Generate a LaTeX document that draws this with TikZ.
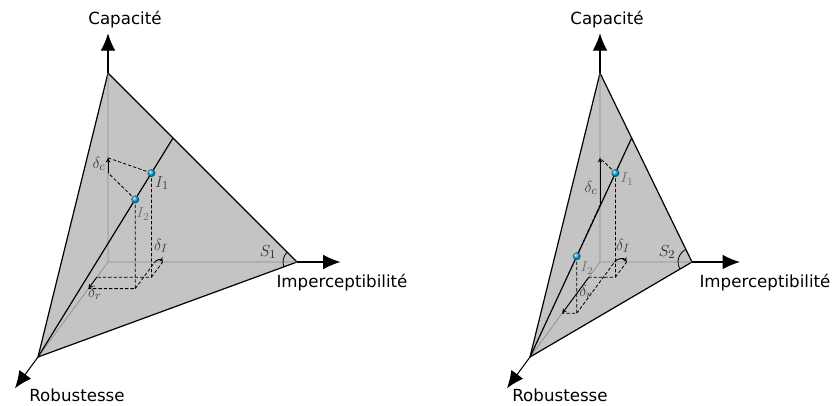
\documentclass[tikz,border=0pt]{standalone}
\usepackage{fontspec}
\setsansfont{DejaVu Sans}
\usetikzlibrary{arrows.meta}

\definecolor{facegray}{RGB}{196,196,196}
\definecolor{ballblue}{RGB}{25,165,220}

\begin{document}
\begin{tikzpicture}[x=0.75pt, y=-0.75pt,
    face/.style={fill=facegray, draw=black, line width=0.9pt, line join=round},
    hidden/.style={draw=black!45, line width=0.5pt},
    axis/.style={-{Latex[length=13pt,width=11pt]}, line width=0.8pt},
    trace/.style={line width=0.9pt},
    proj/.style={dash pattern=on 2.5pt off 1.5pt, line width=0.6pt},
    gap/.style={-{Stealth[length=3.5pt,width=3.5pt]}, line width=0.7pt},
    image/.style={circle, inner sep=0pt, minimum size=6pt, ball color=ballblue},
    angle/.style={line width=0.6pt},
    axislabel/.style={font=\sffamily\fontsize{12.5}{14}\selectfont},
    mathlabel/.style={text=black!75, font=\fontsize{13}{14}\selectfont},
    faint/.style={mathlabel, text=black!55, font=\fontsize{11}{12}\selectfont}]

  \useasboundingbox (0,0) rectangle (837,405);

  % first plane s1
  \begin{scope}[shift={(108,262)}, x={(141.75pt,0pt)}, y={(-52.5pt,-71.25pt)}, z={(0pt,141.75pt)}]
    \coordinate (aO) at (0,0,0);
    \coordinate (aI) at (1,0,0);
    \coordinate (aR) at (0,1,0);
    \coordinate (aC) at (0,0,1);
    \coordinate (aIt) at (1.23,0,0);
    \coordinate (aRt) at (0,1.33,0);
    \coordinate (aCt) at (0,0,1.21);
    \coordinate (aP) at (0.344,0,0.656);
    % I1 and its traces
    \coordinate (aA) at (0.289,0.16,0.551);
    \coordinate (aAf) at (0.289,0.16,0);
    \coordinate (aAi) at (0.289,0,0);
    \coordinate (aAr) at (0,0.16,0);
    \coordinate (aAc) at (0,0,0.551);
    % I2 and its traces
    \coordinate (aB) at (0.248,0.28,0.472);
    \coordinate (aBf) at (0.248,0.28,0);
    \coordinate (aBi) at (0.248,0,0);
    \coordinate (aBr) at (0,0.28,0);
    \coordinate (aBc) at (0,0,0.472);

    \filldraw[face] (aR) -- (aI) -- (aC) -- cycle;
    \draw[hidden] (aO) -- (aI) (aO) -- (aR) (aO) -- (aC);
    \draw[axis] (aC) -- (aCt);
    \draw[axis] (aI) -- (aIt);
    \draw[axis] (aR) -- (aRt);
    \draw[angle] (aI) ++(135:10.5pt) arc[start angle=135, end angle=200, radius=10.5pt];
    \draw[proj] (aA) -- (aAf) -- (aAr) (aAf) -- (aAi) (aA) -- (aAc);
    \draw[proj] (aB) -- (aBf) -- (aBr) (aBf) -- (aBi) (aB) -- (aBc);
    \draw[gap] (aBc) -- (aAc);
    \draw[gap] (aBi) to[bend left=60] (aAi);
    \draw[gap] (aAr) -- (aBr);
    \draw[trace] (aR) -- (aP);
    \node[image] (aImgA) at (aA) {};
    \node[image] (aImgB) at (aB) {};
  \end{scope}

  % second plane s2
  \begin{scope}[shift={(600,262)}, x={(69pt,0pt)}, y={(-52.5pt,-71.25pt)}, z={(0pt,141.75pt)}]
    \coordinate (bO) at (0,0,0);
    \coordinate (bI) at (1,0,0);
    \coordinate (bR) at (0,1,0);
    \coordinate (bC) at (0,0,1);
    \coordinate (bIt) at (1.52,0,0);
    \coordinate (bRt) at (0,1.33,0);
    \coordinate (bCt) at (0,0,1.21);
    \coordinate (bP) at (0.344,0,0.656);
    % I1 and its traces
    \coordinate (bA) at (0.289,0.16,0.551);
    \coordinate (bAf) at (0.289,0.16,0);
    \coordinate (bAi) at (0.289,0,0);
    \coordinate (bAr) at (0,0.16,0);
    \coordinate (bAc) at (0,0,0.551);
    % I2 and its traces
    \coordinate (bB) at (0.158,0.54,0.302);
    \coordinate (bBf) at (0.158,0.54,0);
    \coordinate (bBi) at (0.158,0,0);
    \coordinate (bBr) at (0,0.54,0);
    \coordinate (bBc) at (0,0,0.302);

    \filldraw[face] (bR) -- (bI) -- (bC) -- cycle;
    \draw[hidden] (bO) -- (bI) (bO) -- (bR) (bO) -- (bC);
    \draw[axis] (bC) -- (bCt);
    \draw[axis] (bI) -- (bIt);
    \draw[axis] (bR) -- (bRt);
    \draw[angle] (bI) ++(116:10.5pt) arc[start angle=116, end angle=210, radius=10.5pt];
    \draw[proj] (bA) -- (bAf) -- (bAr) (bAf) -- (bAi) (bA) -- (bAc);
    \draw[proj] (bB) -- (bBf) -- (bBr) (bBf) -- (bBi) (bB) -- (bBc);
    \draw[gap] (bBc) -- (bAc);
    \draw[gap] (bBi) to[bend left=60] (bAi);
    \draw[gap] (bAr) -- (bBr);
    \draw[trace] (bR) -- (bP);
    \node[image] (bImgA) at (bA) {};
    \node[image] (bImgB) at (bB) {};
  \end{scope}

  % axis names
  \node[axislabel] (aCap) at (125,20) {Capacité};
  \node[axislabel] (aImp) at (342,283) {Imperceptibilité};
  \node[axislabel] (aRob) at (77,395) {Robustesse};
  \node[axislabel] (bCap) at (607,20) {Capacité};
  \node[axislabel] (bImp) at (765,283) {Imperceptibilité};
  \node[axislabel] (bRob) at (560,395) {Robustesse};

  % gaps and points
  \node[mathlabel] (aDc) at (99,164) {$\delta_c$};
  \node[mathlabel] (aDi) at (161,246) {$\delta_I$};
  \node[mathlabel] (aDr) at (95,293) {$\delta_r$};
  \node[mathlabel] (aNA) at (162,183) {$I_1$};
  \node[faint] (aNB) at (143,214) {$I_2$};
  \node[mathlabel, text=black!85] (aS) at (268,252) {$S_1$};
  \node[mathlabel] (bDc) at (591,188) {$\delta_c$};
  \node[mathlabel] (bDi) at (623,246) {$\delta_I$};
  \node[mathlabel] (bDr) at (586,292) {$\delta_r$};
  \node[faint] (bNA) at (627,179) {$I_1$};
  \node[faint] (bNB) at (587,268) {$I_2$};
  \node[mathlabel, text=black!85] (bS) at (667,252) {$S_2$};
\end{tikzpicture}
\end{document}
